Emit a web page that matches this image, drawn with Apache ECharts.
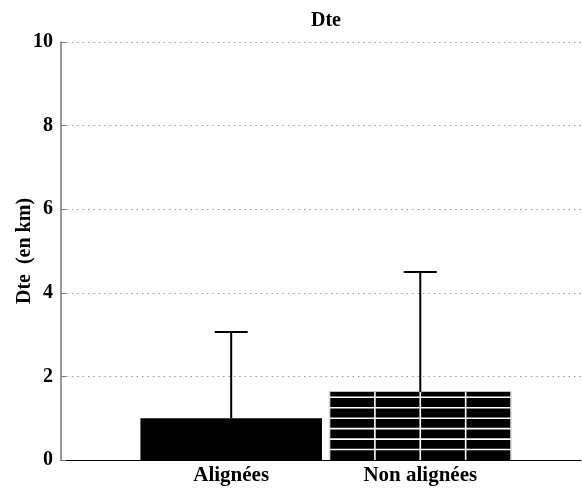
<!DOCTYPE html>
<html>
<head>
<meta charset="utf-8">
<script src="https://cdn.jsdelivr.net/npm/echarts@6/dist/echarts.min.js"></script>
<style>
html,body{margin:0;padding:0;background:#fff;}
#chart{width:582px;height:491px;}
</style>
</head>
<body>
<div id="chart"></div>
<script>
// ---- data ----
var categories = ['Alignées', 'Non alignées'];
var catPositions = [1, 2];
var meanValues = [1.0, 1.63];
var upperValues = [3.06, 4.50];
var barPatterns = ['solid', 'hatched'];
var yTicks = [0, 2, 4, 6, 8, 10];
var titleText = 'Dte';
var yAxisName = 'Dte  (en km)';

var FONT = 'Liberation Serif';
var seriesData = categories.map(function (c, i) {
  return [catPositions[i], meanValues[i], upperValues[i], i];
});

var chart = echarts.init(document.getElementById('chart'), null, {renderer: 'canvas'});

function renderItem(params, api) {
  var x = api.value(0), mean = api.value(1), upper = api.value(2), idx = api.value(3);
  var halfW = api.size([0.96, 0])[0] / 2;
  var base = api.coord([x, 0]);
  var top = api.coord([x, mean]);
  var errTop = api.coord([x, upper]);
  var children = [];
  children.push({
    type: 'rect',
    shape: {x: base[0] - halfW, y: top[1], width: halfW * 2, height: base[1] - top[1]},
    style: {fill: '#000'}
  });
  if (barPatterns[idx] === 'hatched') {
    for (var k = 1; k * 0.25 < mean; k++) {
      var py = api.coord([x, k * 0.25])[1];
      children.push({type: 'line', shape: {x1: base[0] - halfW, y1: py, x2: base[0] + halfW, y2: py},
        style: {stroke: '#fff', lineWidth: 1.6}});
    }
    for (var q = 0; q <= 4; q++) {
      var px = base[0] - halfW + q * halfW / 2;
      children.push({type: 'line', shape: {x1: px, y1: top[1], x2: px, y2: base[1]},
        style: {stroke: q === 0 || q === 4 ? '#ddd' : '#fff', lineWidth: 1.6}});
    }
  }
  children.push({type: 'line', shape: {x1: top[0], y1: top[1], x2: errTop[0], y2: errTop[1]},
    style: {stroke: '#000', lineWidth: 2}});
  children.push({type: 'line', shape: {x1: errTop[0] - 16.5, y1: errTop[1], x2: errTop[0] + 16.5, y2: errTop[1]},
    style: {stroke: '#000', lineWidth: 2}});
  return {type: 'group', children: children};
}

var option = {
  animation: false,
  backgroundColor: '#fff',
  title: {
    text: titleText,
    left: 306,
    top: 6,
    textStyle: {fontFamily: FONT, fontWeight: 'bold', fontSize: 20, color: '#000'}
  },
  grid: {left: 61, right: 1, top: 42, bottom: 31, containLabel: false, outerBoundsMode: 'none'},
  xAxis: {
    type: 'value',
    min: 0.1,
    max: 2.85,
    axisLine: {show: true, onZero: false, lineStyle: {color: '#000', width: 1}},
    axisTick: {show: false},
    splitLine: {show: false},
    axisLabel: {
      show: true,
      customValues: catPositions,
      formatter: function (v) { return categories[catPositions.indexOf(Math.round(v))] || ''; },
      fontFamily: FONT, fontWeight: 'bold', fontSize: 21, color: '#000', margin: 5
    }
  },
  yAxis: {
    type: 'value',
    min: yTicks[0],
    max: yTicks[yTicks.length - 1],
    interval: 2,
    name: yAxisName,
    nameLocation: 'middle',
    nameGap: 26,
    nameMoveOverlap: false,
    nameTextStyle: {fontFamily: FONT, fontWeight: 'bold', fontSize: 20, color: '#000'},
    axisLine: {show: true, lineStyle: {color: '#777', width: 1.5}},
    axisTick: {show: true, inside: true, length: 5, lineStyle: {color: '#777'}},
    axisLabel: {fontFamily: FONT, fontWeight: 'bold', fontSize: 20, color: '#000', margin: 8},
    splitLine: {show: true, lineStyle: {color: '#999', width: 1, type: [1.5, 3.9]}}
  },
  series: [{
    type: 'custom',
    renderItem: renderItem,
    data: seriesData,
    encode: {x: 0, y: [1, 2]},
    z: 5
  }]
};
chart.setOption(option);
</script>
</body>
</html>
